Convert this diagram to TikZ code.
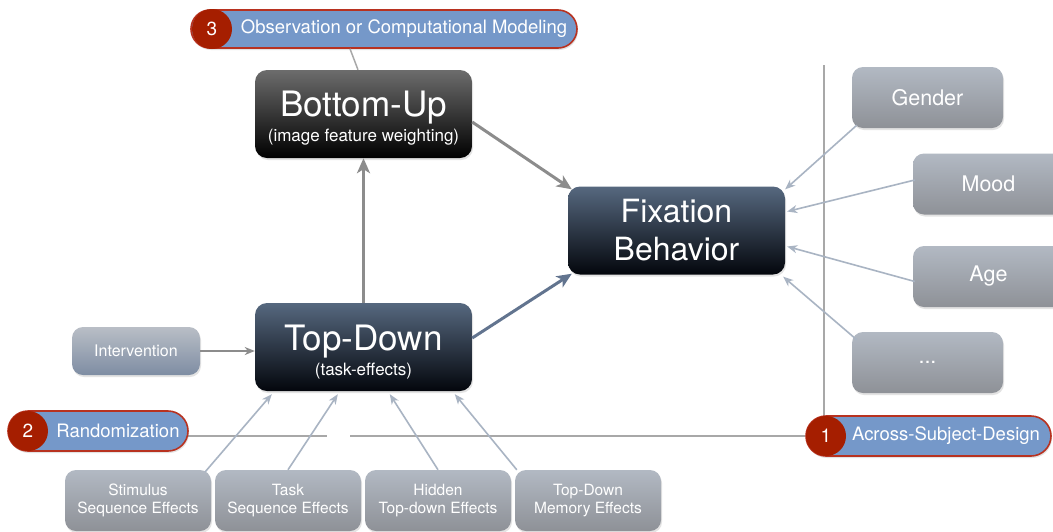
\documentclass[tikz,border=0pt]{standalone}
\usepackage{fontspec}
\setmainfont{TeX Gyre Heros}
\usetikzlibrary{arrows.meta,shadows,calc}
\definecolor{pillblue}{HTML}{7598C9}
\definecolor{pillred}{HTML}{B83220}
\definecolor{circred}{HTML}{A51E00}
\definecolor{lightarr}{HTML}{A9B4C3}
\definecolor{midarr}{HTML}{8C8C8C}
\definecolor{bluearr}{HTML}{62748F}
\definecolor{rule}{HTML}{A8A8A8}
\definecolor{HTMLa}{HTML}{56687F}
\definecolor{HTMLb}{HTML}{03060C}
\definecolor{HTMLc}{HTML}{B2B9C3}
\definecolor{HTMLd}{HTML}{8E9197}
\definecolor{HTMLe}{HTML}{B9BEC6}
\definecolor{HTMLf}{HTML}{7E8DA3}
\tikzset{
  boxshadow/.style={drop shadow={opacity=0.22,shadow xshift=1pt,shadow yshift=-2pt}},
  darkbox/.style={rounded corners=12pt, minimum width=217pt, minimum height=88pt,
    text=white, align=center, inner sep=0pt, boxshadow},
  greybox/.style={darkbox, top color=gray!85!black, bottom color=black},
  bluebox/.style={darkbox, top color=HTMLa, bottom color=HTMLb},
  bigfont/.style={font=\fontsize{35}{37}\selectfont},
  lightbox/.style={rounded corners=11pt, minimum width=151pt, minimum height=61pt,
    text=white, align=center, inner sep=0pt, top color=HTMLc, bottom color=HTMLd, boxshadow,
    font=\fontsize{21.5}{24}\selectfont},
  smallbox/.style={lightbox, minimum width=146pt, font=\fontsize{15.5}{18}\selectfont},
  pillbox/.style={rounded corners=19pt, fill=pillblue, draw=pillred, line width=1.6pt,
    minimum height=38pt, inner sep=0pt, boxshadow},
  numcirc/.style={circle, fill=circred, text=white, minimum size=40pt, inner sep=0pt,
    font=\fontsize{19}{20}\selectfont},
  pilltext/.style={text=white, inner sep=0pt, font=\fontsize{18.5}{20}\selectfont},
  thinarrow/.style={draw=lightarr, line width=1.6pt, -{Stealth[length=10pt,width=8pt,inset=3pt]}},
  thickarrow/.style={draw=midarr, line width=3pt, -{Stealth[length=15pt,width=13pt,inset=4pt]}},
  bluethick/.style={thickarrow, draw=bluearr},
}
\newcommand{\subline}[1]{{\fontsize{17}{19}\selectfont #1}}
\begin{document}
\begin{tikzpicture}[x=1pt,y=-1pt]
\useasboundingbox (0,0) rectangle (1053,531);
\clip (0,0) rectangle (1053,531);
\fill[white] (0,0) rectangle (1053,531);

% rules
\coordinate (vtop) at (824,65);
\coordinate (gapL) at (327,436);
\coordinate (gapR) at (350,436);

% main boxes
\node[greybox, bigfont] (bu) at (363.5,114) {};
\node[text=white, bigfont, inner sep=0pt] (butitle) at (363.5,107.5) {Bottom-Up};
\node[text=white, inner sep=0pt] (busub) at (363.5,137) {\subline{(image feature weighting)}};

\node[bluebox, font=\fontsize{32}{38}\selectfont] (fix) at (676.5,230.5) {Fixation\\Behavior};

\node[bluebox] (td) at (363.5,347) {};
\node[text=white, bigfont, inner sep=0pt] (tdtitle) at (363.5,341.5) {Top-Down};
\node[text=white, inner sep=0pt] (tdsub) at (363.5,371) {\subline{(task-effects)}};

\node[lightbox, minimum width=128pt, minimum height=48pt, top color=HTMLe, bottom color=HTMLf,
  font=\fontsize{16}{18}\selectfont] (int) at (136,351) {Intervention};

% right boxes
\node[lightbox] (gen) at (927.5,97.5) {Gender};
\node[lightbox] (mood) at (988.5,184) {Mood};
\node[lightbox] (age) at (988.5,276.5) {Age};
\node[lightbox] (dots) at (927.5,362.5) {...};

% bottom boxes
\node[smallbox] (stim) at (138,500.5) {Stimulus\\Sequence Effects};
\node[smallbox] (task) at (288,500.5) {Task\\Sequence Effects};
\node[smallbox] (hid) at (438,500.5) {Hidden\\Top-down Effects};
\node[smallbox] (mem) at (588,500.5) {Top-Down\\Memory Effects};

% rules behind pills
\draw[rule, line width=1.5pt] (vtop) -- (vtop |- 0,416);
\draw[rule, line width=2pt] (188,436) -- (gapL);

% pills
\node[pillbox, minimum width=386pt] (l3) at (384,29) {};
\node[numcirc] (n3) at (212,29) {3};
\node[pilltext] (t3) at (404,29) {Observation or Computational Modeling};

\node[pillbox, minimum width=180pt, minimum height=40pt, rounded corners=20pt] (l2) at (98,431) {};
\node[numcirc] (n2) at (28,431) {2};
\node[pilltext] (t2) at (118,431) {Randomization};

\node[pillbox, minimum width=245pt, minimum height=40pt, rounded corners=20pt] (l1) at (928.5,436) {};
\node[numcirc] (n1) at (826,436) {1};
\node[pilltext] (t1) at (946,436) {Across-Subject-Design};

\draw[rule, line width=2pt] (gapR) -- (l1.west);
\draw[rule, line width=1.5pt] ($(l3.south)+(-34,0)$) -- ($(bu.north)+(-5.5,0)$);

% main arrows
\draw[thickarrow] (td.north) -- (bu.south);
\draw[thickarrow] ($(bu.east)+(0,8)$) -- ($(fix.north west)+(4,3)$);
\draw[bluethick] ($(td.east)+(0,-9)$) -- ($(fix.south west)+(4,-1)$);
\draw[draw=midarr, line width=1.6pt, -{Stealth[length=10pt,width=8pt,inset=3pt]}] (int.east) -- (int.east -| td.west);

% right arrows
\draw[thinarrow] ($(gen.south west)+(5,-3)$) -- ($(fix.north east)+(0,3)$);
\draw[thinarrow] ($(mood.west)+(2,-4)$) -- ($(fix.east)+(2,-19)$);
\draw[thinarrow] ($(age.west)+(2,5)$) -- ($(fix.east)+(2,16)$);
\draw[thinarrow] ($(dots.north west)+(5,8)$) -- ($(fix.south east)+(-2,2)$);

% bottom arrows
\draw[thinarrow] ($(stim.north east)+(-6,2)$) -- ($(td.south west)+(17,3)$);
\draw[thinarrow] (task.north) -- ($(td.south west)+(83,3)$);
\draw[thinarrow] (hid.north) -- ($(td.south west)+(135,3)$);
\draw[thinarrow] ($(mem.north west)+(2,0)$) -- ($(td.south west)+(200,3)$);
\end{tikzpicture}
\end{document}
